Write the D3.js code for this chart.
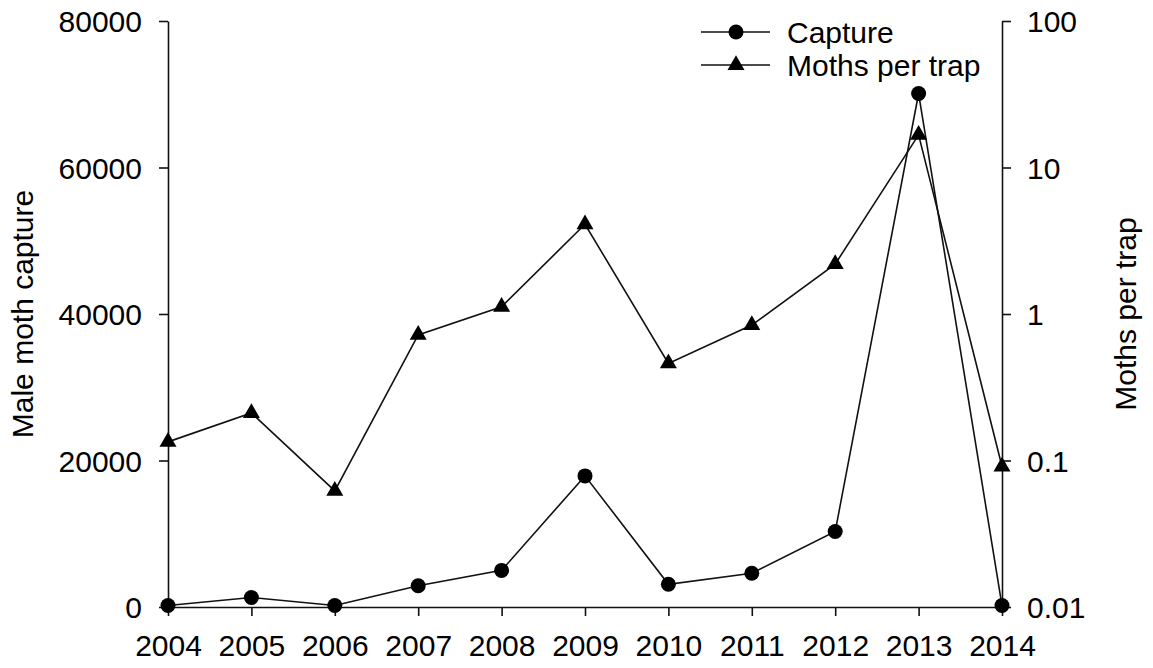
<!DOCTYPE html>
<html>
<head>
<meta charset="utf-8">
<script src="https://cdn.jsdelivr.net/npm/d3@7"></script>
<style>
  html, body { margin: 0; padding: 0; background: #fff; }
  svg { display: block; font-family: "Liberation Sans", Arial, Helvetica, sans-serif; }
</style>
</head>
<body>
<svg id="chart" width="1153" height="668"></svg>
<script>
const years = [2004, 2005, 2006, 2007, 2008, 2009, 2010, 2011, 2012, 2013, 2014];
const capture = [200, 1300, 200, 2900, 5000, 17900, 3100, 4600, 10300, 70100, 200];
const mothsPerTrap = [0.134, 0.211, 0.062, 0.72, 1.12, 4.1, 0.46, 0.84, 2.19, 16.7, 0.091];
const leftTicks = [0, 20000, 40000, 60000, 80000];
const rightTicks = [0.01, 0.1, 1, 10, 100];
const seriesNames = ["Capture", "Moths per trap"];

const svg = d3.select("#chart");
const x = d3.scaleLinear().domain([2004, 2014]).range([168, 1002]);
const yL = d3.scaleLinear().domain([0, 80000]).range([607, 21]);
const yR = d3.scaleLog().domain([0.01, 100]).range([607, 21]);

const fs = 30;
const stroke = "#111";

// axes
const gx = svg.append("g").attr("transform", `translate(0,${yL(0)})`)
  .call(d3.axisBottom(x).tickValues(years).tickFormat(d3.format("d")).tickSize(9).tickPadding(19).tickSizeOuter(0));
const gl = svg.append("g").attr("transform", `translate(${x(2004)},0)`)
  .call(d3.axisLeft(yL).tickValues(leftTicks).tickFormat(d => String(d)).tickSize(9).tickPadding(17).tickSizeOuter(0));
const gr = svg.append("g").attr("transform", `translate(${x(2014)},0)`)
  .call(d3.axisRight(yR).tickValues(rightTicks).tickFormat(d => String(d)).tickSize(9).tickPadding(16).tickSizeOuter(0));

[gx, gl, gr].forEach(g => {
  g.selectAll("path.domain").attr("stroke", stroke).attr("stroke-width", 1.6);
  g.selectAll(".tick line").attr("stroke", stroke).attr("stroke-width", 1.6);
  g.selectAll(".tick text").attr("font-size", fs).attr("fill", "#000").attr("font-family", null);
});
gl.selectAll(".tick text").attr("dy", "0.36em");
gr.selectAll(".tick text").attr("dy", "0.36em");

// axis titles
svg.append("text").attr("transform", `translate(33,${(yL(0) + yL(80000)) / 2}) rotate(-90)`)
  .attr("text-anchor", "middle").attr("font-size", fs).text("Male moth capture");
svg.append("text").attr("transform", `translate(1136,${(yL(0) + yL(80000)) / 2}) rotate(-90)`)
  .attr("text-anchor", "middle").attr("font-size", fs).text("Moths per trap");

// lines
const lineL = d3.line().x((d, i) => x(years[i])).y(d => yL(d));
const lineR = d3.line().x((d, i) => x(years[i])).y(d => yR(d));
svg.append("path").attr("d", lineL(capture)).attr("fill", "none").attr("stroke", stroke).attr("stroke-width", 1.6);
svg.append("path").attr("d", lineR(mothsPerTrap)).attr("fill", "none").attr("stroke", stroke).attr("stroke-width", 1.6);

// markers
const tri = d3.symbol().type(d3.symbolTriangle).size(125);
svg.append("g").selectAll("path").data(mothsPerTrap).join("path")
  .attr("d", tri).attr("transform", (d, i) => `translate(${x(years[i])},${yR(d)})`).attr("fill", "#000");
svg.append("g").selectAll("circle").data(capture).join("circle")
  .attr("cx", (d, i) => x(years[i])).attr("cy", d => yL(d)).attr("r", 7.5).attr("fill", "#000");

// legend
const leg = svg.append("g");
const rows = [{ name: seriesNames[0], y: 32, m: "circle" }, { name: seriesNames[1], y: 65, m: "tri" }];
rows.forEach(r => {
  leg.append("line").attr("x1", 701).attr("x2", 770).attr("y1", r.y).attr("y2", r.y)
    .attr("stroke", stroke).attr("stroke-width", 1.6);
  if (r.m === "circle") {
    leg.append("circle").attr("cx", 736).attr("cy", r.y).attr("r", 7.5).attr("fill", "#000");
  } else {
    leg.append("path").attr("d", tri).attr("transform", `translate(736,${r.y})`).attr("fill", "#000");
  }
  leg.append("text").attr("x", 787).attr("y", r.y).attr("dy", "0.36em").attr("font-size", fs).text(r.name);
});
</script>
</body>
</html>
